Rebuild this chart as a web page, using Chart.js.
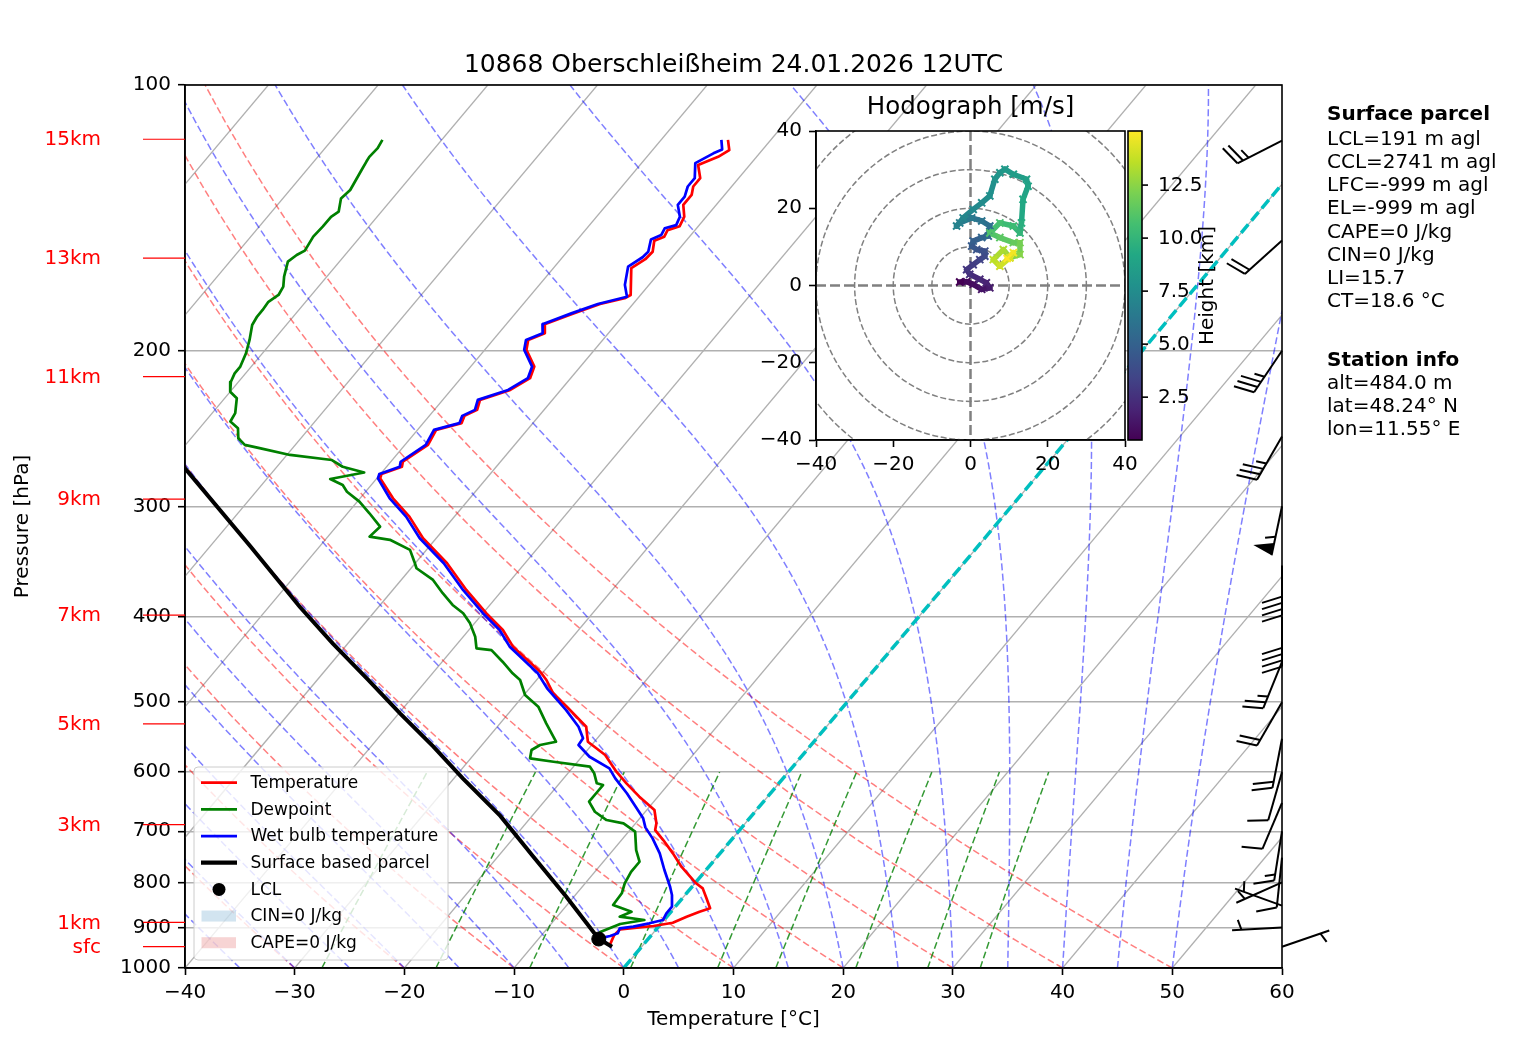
<!DOCTYPE html>
<html>
<head>
<meta charset="utf-8">
<title>Skew-T 10868</title>
<script src="https://cdn.jsdelivr.net/npm/chart.js@4.4.1/dist/chart.umd.min.js"></script>
<style>
  html, body { margin: 0; padding: 0; background: #fff; }
  #wrap { position: relative; width: 1517px; height: 1054px; }
  #skewt { position: absolute; left: 0; top: 0; }
  #hodo { position: absolute; left: 740px; top: 86px; }
</style>
</head>
<body>
<div id="wrap">
  <canvas id="skewt" width="1517" height="1054"></canvas>
  <canvas id="hodo" width="500" height="390"></canvas>
</div>
<script>
const xTicks = [-40, -30, -20, -10, 0, 10, 20, 30, 40, 50, 60];
const pTicks = [100, 200, 300, 400, 500, 600, 700, 800, 900, 1000];

const heightLabels = ['15km', '13km', '11km', '9km', '7km', '5km', '3km', '1km', 'sfc'];
const heightLabelP = [115.2, 157.1, 213.9, 294.5, 398.4, 529.1, 688.0, 887.7, 946.0];

const tempP = [115.4, 118.5, 120.6, 123.2, 127.5, 130.3, 133.2, 136.7, 141.0, 144.5, 146.0, 148.5, 150.1, 154.5, 157.5,
  161.2, 172.9, 174.4, 177.0, 181.4, 186.6, 191.0, 194.4, 199.5, 208.4, 214.8, 221.5, 227.3, 233.3, 237.0, 241.5,
  245.8, 255.6, 267.1, 270.6, 275.8, 278.9, 293.8, 308.2, 326.1, 348.0, 373.1, 396.5, 414.2, 432.6, 461.8, 471.9,
  488.2, 505.9, 533.0, 554.3, 573.9, 599.4, 617.8, 639.7, 662.4, 685.8, 697.9, 716.3, 741.6, 767.9, 801.8, 812.5,
  833.8, 855.9, 863.6, 874.8, 888.7, 896.3, 899.5, 904.0, 917.8, 944.2];
const tempT = [-53.9, -53.0, -53.5, -54.7, -53.5, -53.5, -53.0, -53.0, -52.0, -51.7, -52.5, -52.3, -52.9, -52.2, -52.3,
  -52.9, -50.9, -51.2, -53.0, -54.7, -56.5, -55.8, -56.8, -56.2, -54.2, -53.7, -54.6, -56.6, -56.1, -56.8, -56.5,
  -58.3, -57.9, -58.9, -58.6, -59.9, -59.7, -57.0, -54.1, -51.2, -47.1, -43.3, -39.7, -36.9, -34.7, -30.3, -29.1,
  -27.5, -25.2, -21.9, -20.6, -18.0, -15.7, -13.9, -11.7, -9.3, -8.1, -7.7, -6.2, -4.3, -2.5, 0.1, 1.1,
  2.2, 3.3, 2.6, 1.8, 1.0, -0.5, -1.7, -3.3, -3.4, -3.0];

const dewP = [115.4, 117.9, 120.6, 122.1, 124.8, 131.5, 134.4, 139.1, 141.0, 144.7, 148.5, 154.0, 155.8, 158.5, 164.8,
  169.2, 172.9, 176.0, 179.8, 182.9, 187.0, 194.4, 201.3, 208.4, 212.1, 216.8, 222.5, 226.3, 235.3, 240.5, 244.7,
  251.2, 255.6, 257.8, 262.4, 265.9, 270.6, 274.7, 279.4, 283.8, 288.8, 296.4, 305.5, 316.4, 324.7, 327.4, 336.1,
  346.6, 352.6, 363.5, 376.3, 388.0, 396.5, 407.1, 421.6, 434.5, 436.5, 449.9, 463.7, 471.9, 490.7, 505.9, 528.4,
  554.3, 559.1, 566.4, 578.8, 584.0, 591.6, 601.9, 617.8, 620.6, 634.0, 648.1, 665.3, 679.9, 685.8, 700.9, 735.3,
  758.0, 778.2, 801.8, 823.0, 848.5, 863.6, 874.8, 882.3, 891.7, 910.5, 929.6, 941.8];
const dewT = [-85.4, -85.2, -85.3, -85.2, -85.0, -84.5, -84.7, -83.9, -84.2, -84.2, -84.3, -84.0, -84.4, -84.7, -83.9,
  -83.2, -83.0, -83.4, -83.3, -83.3, -83.1, -82.2, -81.5, -81.0, -81.0, -80.7, -80.0, -78.9, -77.9, -77.7, -76.5,
  -75.7, -74.6, -73.0, -69.7, -65.5, -64.0, -61.6, -64.2, -62.6, -61.7, -59.8, -58.0, -56.0, -56.2, -54.1, -51.5,
  -50.2, -49.5, -47.1, -45.2, -43.4, -41.8, -40.4, -38.9, -37.9, -36.4, -34.5, -32.7, -31.5, -29.9, -27.8, -25.8,
  -23.5, -24.7, -25.1, -24.6, -22.2, -18.5, -17.6, -16.6, -15.9, -15.9, -15.9, -14.6, -12.9, -11.1, -9.4, -7.9,
  -6.7, -6.7, -6.4, -5.9, -5.8, -3.6, -4.3, -1.8, -3.7, -4.9, -4.6, -4.4];

const wetP = [115.4, 118.3, 119.5, 122.6, 127.5, 130.3, 133.8, 136.7, 141.0, 144.1, 145.3, 147.9, 149.6, 154.5, 156.7,
  160.6, 168.4, 173.7, 177.0, 181.4, 186.6, 191.0, 194.4, 199.5, 208.4, 214.8, 221.5, 227.3, 233.3, 237.0, 241.5,
  245.8, 255.6, 267.1, 270.6, 275.8, 278.9, 293.8, 308.2, 326.1, 348.0, 373.1, 396.5, 414.2, 432.6, 463.7, 482.3,
  510.4, 533.0, 549.4, 559.1, 576.4, 594.1, 609.8, 634.0, 653.7, 676.7, 693.0, 713.2, 741.6, 774.5, 809.1, 826.6,
  852.3, 867.2, 882.3, 890.0, 897.8, 901.8, 913.6, 920.0, 925.6, 941.8];
const wetT = [-54.5, -53.7, -54.2, -55.1, -54.0, -54.0, -53.5, -53.5, -52.4, -52.1, -52.9, -52.7, -53.3, -52.6, -52.7,
  -53.3, -52.2, -51.1, -53.2, -54.9, -56.7, -56.0, -57.0, -56.4, -54.4, -53.9, -54.8, -56.8, -56.3, -57.0, -56.7,
  -58.5, -58.1, -59.1, -58.8, -60.1, -59.9, -57.3, -54.4, -51.5, -47.4, -43.6, -40.0, -37.2, -35.0, -30.4, -28.4,
  -25.0, -22.6, -21.3, -21.2, -19.3, -16.6, -15.3, -13.1, -11.5, -9.7, -8.8, -7.3, -5.5, -3.8, -2.0, -1.2,
  -0.3, -0.3, -0.1, -1.1, -2.3, -3.4, -3.2, -3.7, -4.5, -3.8];

const parcelP = [946.0, 927.2, 830.3, 747.6, 672.6, 609.8, 561.5, 514.7, 469.9, 428.8, 389.8, 332.6, 271.5, 200.0];
const parcelT = [-2.7, -4.5, -10.7, -16.8, -22.9, -29.2, -34.3, -39.9, -45.6, -51.4, -57.2, -66.4, -78.3, -94.6];
const lclP = 927.2, lclT = -4.5;

// background lines (starting values at 1000 hPa)
const isotherms = [-100, -90, -80, -70, -60, -50, -40, -30, -20, -10, 0, 10, 20, 30, 40, 50, 60];
const dryT0 = [-40, -30, -20, -10, 0, 10, 20, 30, 40, 50];
const moistT0 = [-40, -35, -30, -25, -20, -15, -10, -5, 0, 5, 10, 15, 20, 25, 30, 35, 40, 45, 50];
const mixRatios = [0.4, 1, 2, 4, 7, 10, 16, 24, 32]; // g/kg

// wind barbs (kt, direction wind comes from)
const barbP = [115.6, 150, 200, 250, 300, 350, 400, 450, 500, 550, 600, 650, 700, 750, 800, 850, 900, 946];
const barbDir = [243, 228, 214, 210, 192, 180, 180, 202, 210, 191, 196, 203, 189, 186, 246, 290, 267, 71];
const barbSpd = [25, 20, 35, 35, 55, 40, 40, 25, 20, 20, 10, 10, 15, 10, 5, 5, 5, 5];

// hodograph (m/s) with height in km
const hodoH = [0.48, 0.8, 1.0, 1.3, 1.6, 1.9, 2.2, 2.5, 2.8, 3.1, 3.4, 3.7, 4.0, 4.3, 4.6, 4.9, 5.2, 5.5, 5.8, 6.1,
  6.4, 6.7, 6.9, 7.1, 7.3, 7.5, 7.7, 7.9, 8.1, 8.3, 8.5, 8.7, 8.9, 9.2, 9.6, 10.0, 10.4, 10.7, 11.0, 11.3,
  11.6, 12.0, 12.4, 12.8, 13.2, 13.6, 14.0, 14.4, 14.8, 15.05];
const hodoU = [-2.8, -1.0, 0.7, 2.9, 5.0, 4.1, 2.4, -0.2, -1.0, 0.7, 2.4, 3.7, 3.7, 1.6, 0.3, 0.7, 2.9, 4.6, 5.0, 2.9,
  0.3, -2.8, -3.6, -1.9, 0.7, 2.9, 5.0, 6.3, 7.6, 8.9, 11.1, 14.5, 14.9, 13.6, 13.2, 12.8, 11.1, 7.6, 5.0, 7.6,
  11.1, 12.8, 12.8, 10.2, 8.5, 5.9, 7.6, 10.2, 11.1, 9.5];
const hodoV = [0.9, 1.0, 0.3, -1.0, -0.6, 0.7, 1.6, 2.9, 4.1, 5.4, 6.7, 7.6, 8.9, 9.3, 10.2, 11.5, 12.4, 12.8, 15.4, 16.7,
  17.5, 16.2, 15.4, 17.5, 19.7, 21.4, 23.2, 27.5, 29.2, 30.1, 28.8, 27.5, 25.7, 22.3, 16.2, 13.6, 15.4, 16.2, 13.6, 12.4,
  11.1, 11.1, 8.0, 7.2, 9.3, 6.7, 5.0, 7.2, 8.5, 7.0];
const hodoTicks = [-40, -20, 0, 20, 40];
const hodoRings = [10, 20, 30, 40, 50];
const cbTicks = [2.5, 5.0, 7.5, 10.0, 12.5];
const cbMin = 0.48, cbMax = 15.05;

const parcelLines = ['LCL=191 m agl', 'CCL=2741 m agl', 'LFC=-999 m agl', 'EL=-999 m agl', 'CAPE=0 J/kg', 'CIN=0 J/kg', 'LI=15.7', 'CT=18.6 °C'];
const stationLines = ['alt=484.0 m', 'lat=48.24° N', 'lon=11.55° E'];

// ---- helpers ----
const SKEW = 67.6; // degC shift per decade of pressure
const skewX = (t, p) => t + SKEW * Math.log10(1000 / p);
const profile = (ps, ts) => ps.map((p, i) => ({ x: skewX(ts[i], p), y: p }));
const minus = v => (v < 0 ? '\u2212' + Math.abs(v) : String(v));

function dryAdiabat(t0) {
  const pts = [];
  for (let p = 1000; p >= 100; p -= 10) {
    const t = (t0 + 273.15) * Math.pow(p / 1000, 0.2857) - 273.15;
    pts.push({ x: skewX(t, p), y: p });
  }
  return pts;
}

function moistAdiabat(t0) {
  const Rd = 287.04749, Cp = 1004.666, Lv = 2.50084e6, eps = 0.621957;
  const es = T => 6.112 * Math.exp(17.67 * (T - 273.15) / (T - 29.65));
  const f = (p, T) => {
    const e = es(T), rs = eps * e / (p - e);
    return (Rd * T + Lv * rs) / (p * (Cp + Lv * Lv * rs * eps / (Rd * T * T)));
  };
  let T = t0 + 273.15;
  const pts = [{ x: skewX(t0, 1000), y: 1000 }];
  const h = -5;
  for (let p = 1000; p > 100; p += h) {
    const k1 = f(p, T), k2 = f(p + h / 2, T + h / 2 * k1), k3 = f(p + h / 2, T + h / 2 * k2), k4 = f(p + h, T + h * k3);
    T += h / 6 * (k1 + 2 * k2 + 2 * k3 + k4);
    pts.push({ x: skewX(T - 273.15, p + h), y: p + h });
  }
  return pts;
}

function mixingLine(w) {
  const pts = [];
  for (let p = 1000; p >= 600; p -= 25) {
    const e = (w / 1000) * p / (0.621957 + w / 1000);
    const l = Math.log(e / 6.112);
    pts.push({ x: skewX(243.5 * l / (17.67 - l), p), y: p });
  }
  return pts;
}

const viridis = ['#440154', '#482475', '#414487', '#355f8d', '#2a788e', '#21918c', '#22a884', '#44bf70', '#7ad151', '#bddf26', '#fde725'];
function cmap(h) {
  const f = Math.max(0, Math.min(1, (h - cbMin) / (cbMax - cbMin)));
  const s = f * 10, i = Math.min(9, Math.floor(s)), t = s - i;
  const a = parseInt(viridis[i].slice(1), 16), b = parseInt(viridis[i + 1].slice(1), 16);
  const ch = k => Math.round(((a >> k) & 255) * (1 - t) + ((b >> k) & 255) * t);
  return `rgb(${ch(16)},${ch(8)},${ch(0)})`;
}

const lineDs = (pts, color, width, dash, order) => ({
  data: pts, borderColor: color, borderWidth: width, borderDash: dash || [],
  pointRadius: 0, showLine: true, fill: false, tension: 0, order
});

// ---- skew-T ----
const datasets = [];
isotherms.forEach(t => datasets.push(lineDs([{ x: t, y: 1000 }, { x: skewX(t, 100), y: 100 }], '#b0b0b0', 1.3, [], 20)));
dryT0.forEach(t => datasets.push(lineDs(dryAdiabat(t), 'rgba(255,0,0,0.5)', 1.5, [7, 3.2], 19)));
moistT0.forEach(t => datasets.push(lineDs(moistAdiabat(t), 'rgba(0,0,255,0.5)', 1.5, [7, 3.2], 18)));
mixRatios.forEach(w => datasets.push(lineDs(mixingLine(w), 'rgba(0,128,0,0.8)', 1.5, [7, 3.2], 17)));
datasets.push(lineDs([{ x: 0, y: 1000 }, { x: skewX(0, 100), y: 100 }], '#00bfbf', 3.5, [11, 5], 16));
datasets.push(Object.assign(lineDs(profile(tempP, tempT), '#ff0000', 2.7, [], 4), { borderJoinStyle: 'round' }));
datasets.push(Object.assign(lineDs(profile(dewP, dewT), '#008000', 2.7, [], 3), { borderJoinStyle: 'round' }));
datasets.push(Object.assign(lineDs(profile(wetP, wetT), '#0000ff', 2.7, [], 2), { borderJoinStyle: 'round' }));
datasets.push(lineDs(profile(parcelP, parcelT), '#000000', 4, [], 1));
datasets.push({ data: [{ x: skewX(lclT, lclP), y: lclP }], pointRadius: 7, pointBackgroundColor: '#000',
  pointBorderColor: '#000', showLine: false, order: 0 });

function drawBarb(ctx, bx, by, dir, spd) {
  const L = 50, ht = 0.4 * L, wd = 0.25 * L, sp = 0.125 * L;
  const a = dir * Math.PI / 180;
  const sx = Math.sin(a), sy = -Math.cos(a);
  const px = -sy, py = sx;
  const at = (d, h) => [bx + sx * d + px * h, by + sy * d + py * h];
  let r = Math.round(spd / 5) * 5;
  const flags = Math.floor(r / 50); r -= flags * 50;
  const full = Math.floor(r / 10); r -= full * 10;
  const half = r >= 5;
  ctx.beginPath();
  ctx.moveTo(bx, by);
  ctx.lineTo(...at(L, 0));
  ctx.stroke();
  let pos = L;
  for (let i = 0; i < flags; i++) {
    if (pos !== L) pos += sp / 2;
    ctx.beginPath();
    ctx.moveTo(...at(pos, 0));
    ctx.lineTo(...at(pos - wd / 2, ht));
    ctx.lineTo(...at(pos - wd, 0));
    ctx.closePath();
    ctx.fill();
    pos -= wd + sp;
  }
  for (let i = 0; i < full; i++) {
    ctx.beginPath();
    ctx.moveTo(...at(pos, 0));
    ctx.lineTo(...at(pos + wd / 2, ht));
    ctx.stroke();
    pos -= sp;
  }
  if (half) {
    if (pos === L) pos -= 1.5 * sp;
    ctx.beginPath();
    ctx.moveTo(...at(pos, 0));
    ctx.lineTo(...at(pos + wd / 4, ht / 2));
    ctx.stroke();
  }
}

const skewDecor = {
  id: 'skewDecor',
  afterDraw(chart) {
    const { ctx, chartArea: a, scales: { y } } = chart;
    ctx.save();
    ctx.strokeStyle = '#000';
    ctx.lineWidth = 1.6;
    ctx.strokeRect(a.left, a.top, a.right - a.left, a.bottom - a.top);

    // height labels on the left
    ctx.font = '20px "DejaVu Sans"';
    ctx.fillStyle = '#ff0000';
    ctx.strokeStyle = '#ff0000';
    ctx.lineWidth = 1.2;
    ctx.textAlign = 'right';
    ctx.textBaseline = 'middle';
    heightLabels.forEach((t, i) => {
      const py = y.getPixelForValue(heightLabelP[i]);
      ctx.beginPath();
      ctx.moveTo(a.left - 42, py);
      ctx.lineTo(a.left, py);
      ctx.stroke();
      ctx.fillText(t, a.left - 84, py + 1);
    });

    // wind barbs along the right spine
    ctx.strokeStyle = '#000';
    ctx.fillStyle = '#000';
    ctx.lineWidth = 2;
    barbP.forEach((p, i) => drawBarb(ctx, a.right, y.getPixelForValue(p), barbDir[i], barbSpd[i]));

    // legend
    const lx = 194, ly = 767, lw = 254, lh = 193;
    ctx.beginPath();
    ctx.roundRect(lx, ly, lw, lh, 4);
    ctx.fillStyle = 'rgba(255,255,255,0.8)';
    ctx.fill();
    ctx.strokeStyle = '#cccccc';
    ctx.lineWidth = 1;
    ctx.stroke();
    const rows = [
      { t: 'Temperature', c: '#ff0000', k: 'line', w: 2.7 },
      { t: 'Dewpoint', c: '#008000', k: 'line', w: 2.7 },
      { t: 'Wet bulb temperature', c: '#0000ff', k: 'line', w: 2.7 },
      { t: 'Surface based parcel', c: '#000000', k: 'line', w: 4.3 },
      { t: 'LCL', c: '#000000', k: 'dot' },
      { t: 'CIN=0 J/kg', c: 'rgba(31,119,180,0.2)', k: 'patch' },
      { t: 'CAPE=0 J/kg', c: 'rgba(214,39,40,0.2)', k: 'patch' }
    ];
    ctx.font = '17px "DejaVu Sans"';
    ctx.textAlign = 'left';
    rows.forEach((r, i) => {
      const ry = 782.7 + i * 26.67;
      if (r.k === 'line') {
        ctx.strokeStyle = r.c; ctx.lineWidth = r.w;
        ctx.beginPath(); ctx.moveTo(201, ry); ctx.lineTo(237, ry); ctx.stroke();
      } else if (r.k === 'dot') {
        ctx.fillStyle = r.c;
        ctx.beginPath(); ctx.arc(219, ry, 6.5, 0, Math.PI * 2); ctx.fill();
      } else {
        ctx.fillStyle = r.c;
        ctx.fillRect(201.5, ry - 5.5, 34.5, 11);
      }
      ctx.fillStyle = '#000';
      ctx.fillText(r.t, 250.5, ry + 1);
    });

    // titles
    ctx.fillStyle = '#000';
    ctx.textAlign = 'center';
    ctx.font = '25px "DejaVu Sans"';
    ctx.fillText('10868 Oberschleißheim 24.01.2026 12UTC', (a.left + a.right) / 2, 65);
    ctx.font = '20px "DejaVu Sans"';
    ctx.fillText('Temperature [°C]', (a.left + a.right) / 2, 1020);
    ctx.save();
    ctx.translate(23, (a.top + a.bottom) / 2);
    ctx.rotate(-Math.PI / 2);
    ctx.fillText('Pressure [hPa]', 0, 0);
    ctx.restore();

    // parcel / station text
    ctx.textAlign = 'left';
    ctx.font = 'bold 20px "DejaVu Sans"';
    ctx.fillText('Surface parcel', 1327, 114.5);
    ctx.fillText('Station info', 1327, 360.5);
    ctx.font = '20px "DejaVu Sans"';
    parcelLines.forEach((t, i) => ctx.fillText(t, 1327, 139.5 + i * 23.2));
    stationLines.forEach((t, i) => ctx.fillText(t, 1327, 384 + i * 23));
    ctx.restore();
  }
};

Chart.defaults.font.family = '"DejaVu Sans"';
Chart.defaults.font.size = 20;
Chart.defaults.color = '#000';

new Chart(document.getElementById('skewt'), {
  type: 'scatter',
  data: { datasets },
  options: {
    responsive: false,
    animation: false,
    devicePixelRatio: 1,
    layout: { padding: { top: 85, right: 235, left: 0, bottom: 0 } },
    plugins: { legend: { display: false }, tooltip: { enabled: false } },
    scales: {
      x: {
        type: 'linear', min: -40, max: 60,
        afterBuildTicks: s => { s.ticks = xTicks.map(v => ({ value: v })); },
        afterFit: s => { s.height = 86; },
        ticks: { callback: v => minus(v), padding: 6, autoSkip: false, maxRotation: 0 },
        grid: { drawOnChartArea: false, tickLength: 7, tickWidth: 1.6, tickColor: '#000' },
        border: { color: '#000', width: 1.6 }
      },
      y: {
        type: 'logarithmic', min: 100, max: 1000, reverse: true,
        afterBuildTicks: s => { s.ticks = pTicks.map(v => ({ value: v })); },
        afterFit: s => { s.width = 185; },
        ticks: { callback: v => String(v), padding: 7, autoSkip: false },
        grid: { color: '#b0b0b0', lineWidth: 1.4, tickLength: 7, tickWidth: 1.6, tickColor: '#000' },
        border: { color: '#000', width: 1.6 }
      }
    }
  },
  plugins: [skewDecor]
});

// ---- hodograph inset ----
const hodoPts = hodoU.map((u, i) => ({ x: u, y: hodoV[i] }));

const hodoDecor = {
  id: 'hodoDecor',
  beforeDraw(chart) {
    const { ctx, chartArea: a } = chart;
    ctx.save();
    ctx.fillStyle = '#fff';
    ctx.fillRect(a.left, a.top, a.right - a.left, a.bottom - a.top);
    ctx.restore();
  },
  beforeDatasetsDraw(chart) {
    const { ctx, chartArea: a, scales: { x, y } } = chart;
    const cx = x.getPixelForValue(0), cy = y.getPixelForValue(0);
    const k = x.getPixelForValue(10) - cx;
    ctx.save();
    ctx.beginPath();
    ctx.rect(a.left, a.top, a.right - a.left, a.bottom - a.top);
    ctx.clip();
    ctx.strokeStyle = '#808080';
    ctx.lineWidth = 1.5;
    ctx.setLineDash([6, 2.6]);
    hodoRings.forEach(r => { ctx.beginPath(); ctx.arc(cx, cy, r / 10 * k, 0, Math.PI * 2); ctx.stroke(); });
    ctx.lineWidth = 2.5;
    ctx.setLineDash([10, 4]);
    ctx.beginPath();
    ctx.moveTo(a.left, cy); ctx.lineTo(a.right, cy);
    ctx.moveTo(cx, a.top); ctx.lineTo(cx, a.bottom);
    ctx.stroke();
    ctx.restore();
  },
  afterDraw(chart) {
    const { ctx, chartArea: a, scales: { cb } } = chart;
    ctx.save();
    ctx.strokeStyle = '#000';
    ctx.lineWidth = 1.6;
    ctx.strokeRect(a.left, a.top, a.right - a.left, a.bottom - a.top);

    // colorbar with its ticks and labels
    const bl = a.right + 3, bw = 14;
    const g = ctx.createLinearGradient(0, a.bottom, 0, a.top);
    viridis.forEach((c, i) => g.addColorStop(i / 10, c));
    ctx.fillStyle = g;
    ctx.fillRect(bl, a.top, bw, a.bottom - a.top);
    ctx.strokeRect(bl, a.top, bw, a.bottom - a.top);
    ctx.fillStyle = '#000';
    ctx.font = '20px "DejaVu Sans"';
    ctx.textAlign = 'left';
    ctx.textBaseline = 'middle';
    cbTicks.forEach(v => {
      const py = cb.getPixelForValue(v);
      ctx.beginPath(); ctx.moveTo(bl + bw, py); ctx.lineTo(bl + bw + 6, py); ctx.stroke();
      ctx.fillText(v.toFixed(1), a.right + 33, py + 1);
    });

    ctx.textAlign = 'center';
    ctx.font = '24.5px "DejaVu Sans"';
    ctx.fillText('Hodograph [m/s]', (a.left + a.right) / 2, 22);
    ctx.font = '20px "DejaVu Sans"';
    ctx.translate(468, (a.top + a.bottom) / 2);
    ctx.rotate(-Math.PI / 2);
    ctx.fillText('Height [km]', 0, 0);
    ctx.restore();
  }
};

new Chart(document.getElementById('hodo'), {
  type: 'scatter',
  data: {
    datasets: [{
      data: hodoPts,
      showLine: true,
      borderWidth: 5.5,
      borderJoinStyle: 'round',
      borderCapStyle: 'round',
      tension: 0,
      segment: { borderColor: c => cmap(hodoH[c.p0DataIndex]) },
      pointStyle: 'crossRot',
      pointRadius: 5,
      pointBorderWidth: 2,
      pointBorderColor: c => cmap(hodoH[c.dataIndex]),
      pointBackgroundColor: c => cmap(hodoH[c.dataIndex])
    }]
  },
  options: {
    responsive: false,
    animation: false,
    devicePixelRatio: 1,
    layout: { padding: { top: 45, right: 0, left: 0, bottom: 0 } },
    plugins: { legend: { display: false }, tooltip: { enabled: false } },
    scales: {
      x: {
        type: 'linear', min: -40, max: 40,
        afterBuildTicks: s => { s.ticks = hodoTicks.map(v => ({ value: v })); },
        afterFit: s => { s.height = 36; },
        ticks: { callback: v => minus(v), padding: 6, autoSkip: false, maxRotation: 0 },
        grid: { drawOnChartArea: false, tickLength: 7, tickWidth: 1.6, tickColor: '#000' },
        border: { color: '#000', width: 1.6 }
      },
      y: {
        type: 'linear', min: -40, max: 40,
        afterBuildTicks: s => { s.ticks = hodoTicks.map(v => ({ value: v })); },
        afterFit: s => { s.width = 76; },
        ticks: { callback: v => minus(v), padding: 7, autoSkip: false },
        grid: { drawOnChartArea: false, tickLength: 7, tickWidth: 1.6, tickColor: '#000' },
        border: { color: '#000', width: 1.6 }
      },
      cb: {
        type: 'linear', position: 'right', min: cbMin, max: cbMax,
        afterFit: s => { s.width = 115; },
        ticks: { display: false },
        grid: { display: false, drawTicks: false },
        border: { display: false }
      }
    }
  },
  plugins: [hodoDecor]
});
</script>
</body>
</html>
